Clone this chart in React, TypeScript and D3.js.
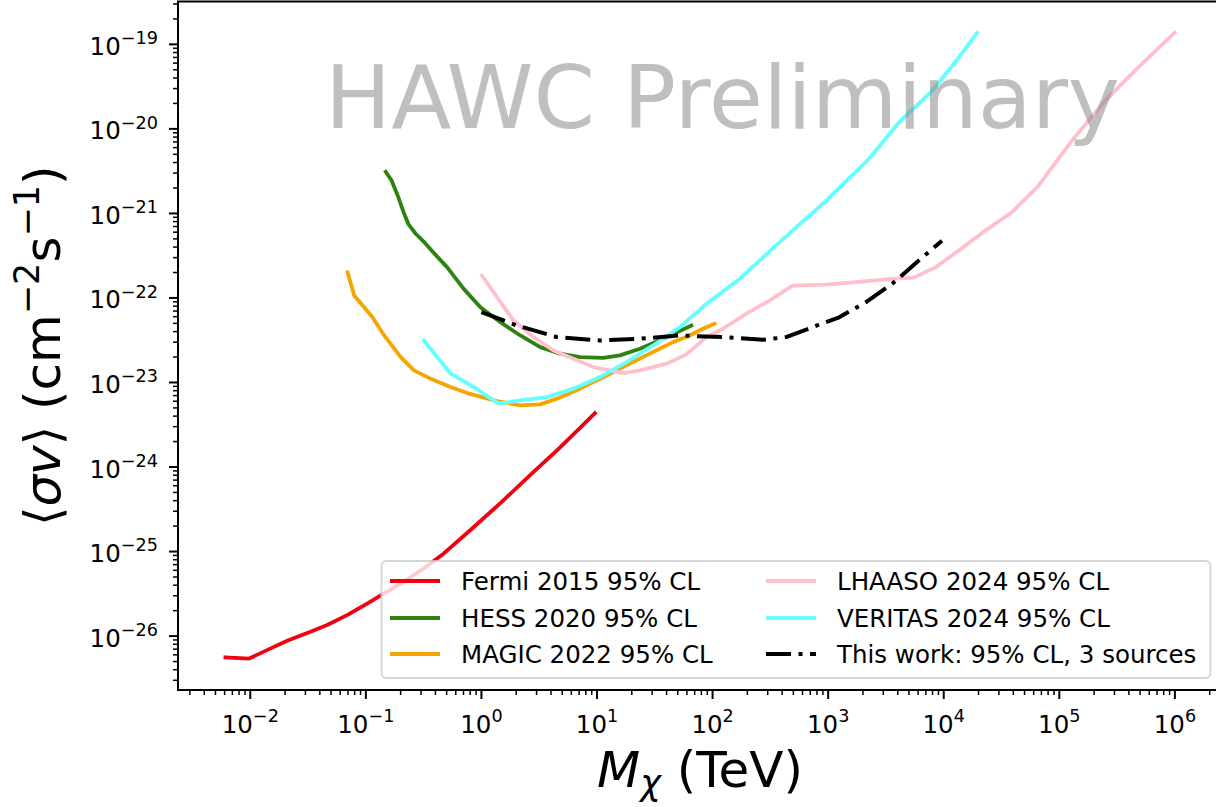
import React from "react";
import * as d3 from "d3";

type Pt = [number, number]; // [mass in TeV, <sigma v> in cm^3 s^-1]

// ---- Limit curves -------------------------------------------------------
const fermi2015: Pt[] = [
  [6.1e-3, 5.6e-27], [9.7e-3, 5.4e-27], [0.0152, 7.2e-27], [0.0211, 8.85e-27],
  [0.0336, 1.13e-26], [0.0468, 1.36e-26], [0.0695, 1.78e-26], [0.1035, 2.44e-26],
  [0.144, 3.21e-26], [0.214, 4.4e-26], [0.318, 6.34e-26], [0.473, 9.5e-26],
  [0.804, 1.8e-25], [1.46, 3.74e-25], [2.64, 8.0e-25], [4.8, 1.71e-24], [9.6, 4.32e-24],
];

const hess2020: Pt[] = [
  [0.1486, 3.11e-21], [0.1675, 2.43e-21], [0.1888, 1.62e-21], [0.2128, 1.02e-21],
  [0.235, 7.36e-22], [0.27, 5.75e-22], [0.323, 4.51e-22], [0.371, 3.63e-22],
  [0.506, 2.3e-22], [0.703, 1.28e-22], [0.98, 7.76e-23], [1.46, 5.16e-23],
  [2.17, 3.6e-23], [3.23, 2.62e-23], [4.8, 2.19e-23], [7.13, 2.0e-23],
  [11.3, 1.96e-23], [15.8, 2.09e-23], [23.5, 2.51e-23], [34.9, 3.15e-23], [65.5, 4.72e-23],
];

const magic2022: Pt[] = [
  [0.0695, 2.01e-22], [0.0793, 1.07e-22], [0.1142, 5.91e-23], [0.144, 3.6e-23],
  [0.2004, 2.0e-23], [0.261, 1.39e-23], [0.363, 1.11e-23], [0.541, 8.83e-24],
  [0.753, 7.5e-24], [1.366, 6.03e-24], [2.17, 5.37e-24], [3.23, 5.51e-24],
  [4.5, 6.44e-24], [7.13, 8.45e-24], [12.1, 1.21e-23], [19.2, 1.67e-23],
  [30.6, 2.29e-23], [45.5, 3.0e-23], [63.4, 3.6e-23], [82.5, 4.32e-23], [104, 4.94e-23],
];

const lhaaso2024: Pt[] = [
  [1.01, 1.84e-22], [1.366, 1.02e-22], [1.9, 5.41e-23], [2.82, 3.44e-23],
  [4.2, 2.39e-23], [6.25, 1.91e-23], [9.29, 1.52e-23], [16.9, 1.29e-23],
  [23.5, 1.39e-23], [39.9, 1.67e-23], [59.3, 2.15e-23], [88.3, 3.44e-23],
  [123, 4.32e-23], [195, 6.49e-23], [310, 9.3e-23], [492, 1.4e-22],
  [955, 1.44e-22], [1620, 1.53e-22], [3580, 1.68e-22], [5510, 1.74e-22],
  [8470, 2.3e-22], [13460, 3.63e-22], [22860, 6.25e-22], [38800, 1.03e-21],
  [65900, 2.12e-21], [1.28e5, 7.21e-21], [2.48e5, 2.14e-20], [4.8e5, 5.3e-20], [9.93e5, 1.37e-19],
];

const veritas2024: Pt[] = [
  [0.318, 3.14e-23], [0.541, 1.27e-23], [0.859, 8.83e-24], [1.41, 5.62e-24],
  [2.17, 6.15e-24], [3.68, 6.73e-24], [6.25, 8.45e-24], [10.6, 1.16e-23],
  [18.0, 1.74e-23], [30.6, 2.74e-23], [52.0, 4.51e-23], [88.3, 8.51e-23],
  [171, 1.68e-22], [378, 4.55e-22], [955, 1.41e-21], [2255, 4.43e-21],
  [4093, 1.19e-20], [7925, 2.81e-20], [13460, 6.95e-20], [19360, 1.37e-19],
];

const thisWork: Pt[] = [
  [1.0, 6.78e-23], [2.03, 4.72e-23], [4.5, 3.44e-23], [10.6, 3.14e-23],
  [23.5, 3.29e-23], [52.0, 3.6e-23], [123, 3.44e-23], [272, 3.2e-23],
  [432, 3.44e-23], [732, 4.51e-23], [1245, 5.91e-23], [2113, 8.89e-23],
  [3580, 1.47e-22], [6080, 2.77e-22], [9660, 4.76e-22],
];

const seriesLabels = [
  "Fermi 2015 95% CL",
  "HESS 2020 95% CL",
  "MAGIC 2022 95% CL",
  "LHAASO 2024 95% CL",
  "VERITAS 2024 95% CL",
  "This work: 95% CL, 3 sources",
];

const xTickExponents = [-2, -1, 0, 1, 2, 3, 4, 5, 6];
const yTickExponents = [-26, -25, -24, -23, -22, -21, -20, -19];

// ---- Styling --------------------------------------------------------------
const FONT = "'DejaVu Sans', Verdana, sans-serif";
const W = 1216;
const H = 807;
const box = { left: 178, top: 1.5, right: 1222, bottom: 690 };
const LW = 3.8;

const seriesData = [fermi2015, hess2020, magic2022, lhaaso2024, veritas2024, thisWork];
const seriesColors = ["#f2000f", "#2e8212", "#f5a500", "#ffc0cb", "#66ffff", "#000000"];
const seriesWidths = [LW, LW, LW, LW, LW, 4];
const seriesDash = [null, null, null, null, null, "25 7.5 4 7.5"];

const MINUS = "\u2212";

// Log-space extent of all curves, padded by 5% on each side.
function paddedDomain(vals: number[]): [number, number] {
  const logs = vals.map((v) => Math.log10(v));
  const lo = d3.min(logs)!;
  const hi = d3.max(logs)!;
  const pad = (hi - lo) * 0.05;
  return [10 ** (lo - pad), 10 ** (hi + pad)];
}

function minorTicks(domain: [number, number]): number[] {
  const out: number[] = [];
  const k0 = Math.floor(Math.log10(domain[0]));
  const k1 = Math.ceil(Math.log10(domain[1]));
  for (let k = k0; k <= k1; k++) {
    for (let m = 2; m <= 9; m++) {
      const v = m * 10 ** k;
      if (v >= domain[0] && v <= domain[1]) out.push(v);
    }
  }
  return out;
}

function Pow10({ e, size }: { e: number; size: number }) {
  const exp = e < 0 ? MINUS + String(-e) : String(e);
  return (
    <>
      <tspan>10</tspan>
      <tspan fontSize={size * 0.72} dy={-size * 0.44}>{exp}</tspan>
    </>
  );
}

export default function App() {
  const all = seriesData.flat();
  const xDom = paddedDomain(all.map((d) => d[0]));
  const yDom = paddedDomain(all.map((d) => d[1]));

  const x = d3.scaleLog().domain(xDom).range([box.left, box.right]);
  const y = d3.scaleLog().domain(yDom).range([box.bottom, box.top]);

  const line = d3
    .line<Pt>()
    .x((d) => x(d[0]))
    .y((d) => y(d[1]));

  const tickFont = 24.5;
  const legendFont = 24.5;
  const labelFont = 50;

  // Legend layout: two columns of three entries.
  const legBox = { x: 381.5, y: 561, w: 829, h: 117 };
  const rowY = [581, 618, 654];
  const colX = [390, 766];
  const handleLen = 50;

  return (
    <svg
      width={W}
      height={H}
      style={{ position: "absolute", left: 0, top: 0, background: "#fff" }}
      fontFamily={FONT}
    >
      <defs>
        <clipPath id="plotArea">
          <rect x={box.left} y={box.top} width={box.right - box.left} height={box.bottom - box.top} />
        </clipPath>
      </defs>
      <rect x={0} y={0} width={W} height={H} fill="#fff" />

      {/* curves */}
      <g clipPath="url(#plotArea)" fill="none" strokeLinejoin="round">
        {seriesData.map((d, i) => (
          <path
            key={i}
            d={line(d) ?? ""}
            stroke={seriesColors[i]}
            strokeWidth={seriesWidths[i]}
            strokeDasharray={seriesDash[i] ?? undefined}
            strokeLinecap={seriesDash[i] ? "butt" : "square"}
          />
        ))}
      </g>

      {/* watermark */}
      <text x={325} y={128} fontSize={88} fill="#808080" fillOpacity={0.5}>
        HAWC Preliminary
      </text>

      {/* spines */}
      <g stroke="#000" strokeWidth={2} fill="none">
        <line x1={box.left} x2={box.left} y1={box.top} y2={box.bottom + 1} />
        <line x1={box.left - 1} x2={box.right} y1={box.bottom} y2={box.bottom} />
        <line x1={box.left - 1} x2={box.right} y1={box.top} y2={box.top} />
        <line x1={box.right} x2={box.right} y1={box.top} y2={box.bottom} />
      </g>

      {/* x ticks */}
      <g stroke="#000">
        {minorTicks(xDom).map((v, i) => (
          <line key={i} x1={x(v)} x2={x(v)} y1={box.bottom} y2={box.bottom + 5} strokeWidth={1.5} />
        ))}
        {xTickExponents.map((e) => (
          <line key={e} x1={x(10 ** e)} x2={x(10 ** e)} y1={box.bottom} y2={box.bottom + 9} strokeWidth={2} />
        ))}
      </g>
      <g fontSize={tickFont} fill="#000">
        {xTickExponents.map((e) => (
          <text key={e} x={x(10 ** e)} y={733} textAnchor="middle">
            <Pow10 e={e} size={tickFont} />
          </text>
        ))}
      </g>

      {/* y ticks */}
      <g stroke="#000">
        {minorTicks(yDom).map((v, i) => (
          <line key={i} x1={box.left - 5} x2={box.left} y1={y(v)} y2={y(v)} strokeWidth={1.5} />
        ))}
        {yTickExponents.map((e) => (
          <line key={e} x1={box.left - 9} x2={box.left} y1={y(10 ** e)} y2={y(10 ** e)} strokeWidth={2} />
        ))}
      </g>
      <g fontSize={tickFont} fill="#000">
        {yTickExponents.map((e) => (
          <text key={e} x={158} y={y(10 ** e) + 10.5} textAnchor="end">
            <Pow10 e={e} size={tickFont} />
          </text>
        ))}
      </g>

      {/* axis labels */}
      <text x={(box.left + box.right) / 2} y={787} textAnchor="middle" fontSize={labelFont} fill="#000">
        <tspan fontStyle="italic">M</tspan>
        <tspan fontStyle="italic" fontSize={labelFont * 0.7} dy={8}>χ</tspan>
        <tspan dy={-8}> (TeV)</tspan>
      </text>
      <text
        transform={`translate(60, ${(box.top + box.bottom) / 2}) rotate(-90)`}
        textAnchor="middle"
        fontSize={labelFont}
        fill="#000"
      >
        <tspan>⟨</tspan>
        <tspan fontStyle="italic">σv</tspan>
        <tspan>⟩ (cm</tspan>
        <tspan fontSize={labelFont * 0.7} dy={-labelFont * 0.42}>{MINUS}2</tspan>
        <tspan dy={labelFont * 0.42}>s</tspan>
        <tspan fontSize={labelFont * 0.7} dy={-labelFont * 0.42}>{MINUS}1</tspan>
        <tspan dy={labelFont * 0.42}>)</tspan>
      </text>

      {/* legend */}
      <g>
        <rect
          x={legBox.x}
          y={legBox.y}
          width={legBox.w}
          height={legBox.h}
          rx={5}
          fill="#fff"
          fillOpacity={0.8}
          stroke="#cccccc"
          strokeOpacity={0.8}
          strokeWidth={2}
        />
        {seriesLabels.map((label, i) => {
          const col = Math.floor(i / 3);
          const row = i % 3;
          const lx = colX[col];
          const ly = rowY[row];
          return (
            <g key={label}>
              <line
                x1={lx}
                x2={lx + handleLen}
                y1={ly}
                y2={ly}
                stroke={seriesColors[i]}
                strokeWidth={seriesWidths[i]}
                strokeDasharray={seriesDash[i] ?? undefined}
              />
              <text x={lx + handleLen + 21} y={ly + 9} fontSize={legendFont} fill="#000">
                {label}
              </text>
            </g>
          );
        })}
      </g>
    </svg>
  );
}
